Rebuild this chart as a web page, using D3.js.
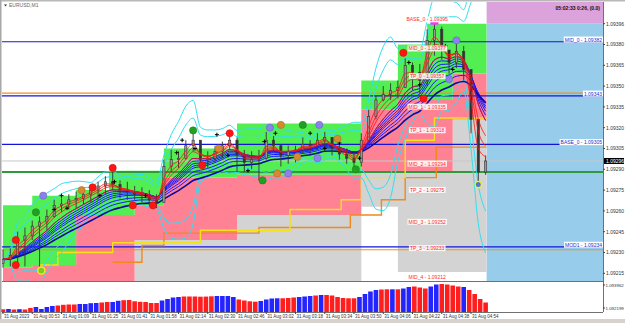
<!DOCTYPE html>
<html>
<head>
<meta charset="utf-8">
<script src="https://cdn.jsdelivr.net/npm/d3@7"></script>
<style>
body{margin:0;background:#fff;}
text{font-family:"Liberation Sans",Arial,sans-serif;}
</style>
</head>
<body>
<svg id="chart" width="625" height="323"></svg>
<script>
// ---- data (EURUSD M1, 31 Aug 2023), one candle = 4 M1 bars ----
var barsPerCandle = 4;
var highs = [1.09232,1.09233,1.09245,1.09248,1.09253,1.09256,1.09261,1.09268,1.09269,1.09272,1.09274,1.09277,1.09278,1.09281,1.09285,1.09288,1.09282,1.09281,1.09278,1.09277,1.09275,1.09272,1.09297,1.09304,1.09303,1.09311,1.09318,1.09304,1.09303,1.09307,1.09310,1.09317,1.09313,1.09304,1.09303,1.09304,1.09317,1.09314,1.09308,1.09307,1.09307,1.09313,1.09311,1.09316,1.09317,1.09311,1.09310,1.09305,1.09303,1.09316,1.09333,1.09343,1.09350,1.09352,1.09354,1.09370,1.09367,1.09366,1.09391,1.09395,1.09393,1.09375,1.09382,1.09379,1.09357,1.09321,1.09300];
var lows = [1.09219,1.09220,1.09221,1.09220,1.09239,1.09216,1.09246,1.09255,1.09259,1.09261,1.09262,1.09265,1.09266,1.09268,1.09272,1.09275,1.09269,1.09268,1.09268,1.09266,1.09264,1.09262,1.09268,1.09288,1.09291,1.09297,1.09303,1.09292,1.09291,1.09295,1.09298,1.09304,1.09288,1.09288,1.09290,1.09282,1.09297,1.09303,1.09292,1.09294,1.09295,1.09301,1.09300,1.09304,1.09305,1.09300,1.09297,1.09294,1.09291,1.09292,1.09310,1.09326,1.09339,1.09340,1.09341,1.09349,1.09347,1.09344,1.09350,1.09372,1.09369,1.09359,1.09363,1.09354,1.09316,1.09278,1.09286];
var closes = [1.09225,1.09228,1.09239,1.09242,1.09249,1.09252,1.09256,1.09264,1.09265,1.09268,1.09269,1.09272,1.09275,1.09278,1.09281,1.09279,1.09275,1.09274,1.09272,1.09271,1.09268,1.09266,1.09292,1.09297,1.09298,1.09307,1.09311,1.09297,1.09298,1.09303,1.09307,1.09311,1.09301,1.09295,1.09297,1.09298,1.09311,1.09307,1.09300,1.09303,1.09304,1.09308,1.09307,1.09311,1.09313,1.09305,1.09301,1.09298,1.09295,1.09311,1.09328,1.09340,1.09344,1.09347,1.09349,1.09365,1.09360,1.09354,1.09383,1.09391,1.09376,1.09367,1.09375,1.09362,1.09326,1.09288,1.09296];

// stepped channel (start bar of each step)
var bandStart = [0, 16, 40, 58, 72, 88, 128, 196, 216, 232, 246];
var bandTop   = [1.09264,1.09271,1.09275,1.09289,1.09289,1.09305,1.09323,1.09354,1.09380,1.09395,1.09395];
var bandMid   = [1.09219,1.09221,1.09257,1.09257,1.09264,1.09284,1.09286,1.09333,1.09340,1.09340,1.09359];
var bandLow   = [1.09209,1.09209,1.09209,1.09209,1.09239,1.09239,1.09257,1.09288,1.09288,1.09288,1.09326];
var bandFloor = [1.09209,1.09209,1.09209,1.09209,1.09209,1.09209,1.09209,1.09263,1.09216,1.09216,1.09216];

var yellowStart = [20, 30, 60, 108, 157, 185, 196, 220, 236];
var yellowLevel = [1.09221,1.09230,1.09237,1.09246,1.09261,1.09268,1.09284,1.09311,1.09327];
var orangeStart = [0, 16, 60, 76, 88, 104, 140, 190, 207, 220, 237];
var orangeLevel = [1.09249,null,1.09223,1.09235,1.09244,1.09244,1.09248,1.09257,1.09268,1.09284,1.09306];

// horizontal levels
var levelPrices = [1.09382, 1.09345, 1.09343, 1.09308, 1.09288, 1.09234, 1.09232];
var levelKinds  = ["blue", "orange", "blue", "blue", "green", "blue", "orange"];
var sideLabels  = ["MID_0 - 1.09382", "", "1.09343", "BASE_0 - 1.09305", "", "MOD1 - 1.09234", ""];
var lastPrice = 1.09296;

// level captions drawn on the chart
var capText  = ["BASE_0 - 1.09395","MID_0 - 1.09377","TP_0 - 1.09357","MID_1 - 1.09335","TP_1 - 1.09318","MID_2 - 1.09294","TP_2 - 1.09275","MID_3 - 1.09252","TP_3 - 1.09233","MID_4 - 1.09212"];
var capPrice = [1.09398,1.09377,1.09357,1.09335,1.09318,1.09294,1.09275,1.09252,1.09233,1.09212];

// signal dots: bar index, price, kind
var dotBar   = [7,7,18,21,22,43,49,60,71,82,104,109,118,124,142,146,150,152,156,161,164,172,173,183,193,219,230,244,248];
var dotPrice = [1.09221,1.09239,1.09259,1.09217,1.09271,1.09275,1.09277,1.09291,1.09264,1.09264,1.09318,1.09293,1.09305,1.09316,1.09282,1.09320,1.09287,1.09322,1.09287,1.09299,1.09322,1.09298,1.09322,1.09312,1.09290,1.09374,1.09341,1.09355,1.09383];
var dotKind  = ["r","r","g","y","p","o","r","r","r","r","g","r","o","r","g","p","o","o","p","o","g","p","p","o","g","r","r","p","p"];

var crossBar   = [28,32,35,53,61,78,95,98,105,117,123,134,143,149,168,176,184,195,222,228,242,246];
var crossPrice = [1.09261,1.09271,1.09262,1.09271,1.09281,1.09271,1.09302,1.09311,1.09305,1.09315,1.09300,1.09289,1.09310,1.09316,1.09316,1.09305,1.09309,1.09298,1.09367,1.09351,1.09379,1.09362];

// axes
var priceTicks = [1.09395,1.09380,1.09365,1.09350,1.09335,1.09320,1.09305,1.09290,1.09275,1.09260,1.09245,1.09230,1.09215];
var priceTickLabels = ["1.09396","1.09380","1.09365","1.09350","1.09335","1.09320","1.09305","1.09290","1.09275","1.09260","1.09245","1.09230","1.09215"];
var timeLabels = ["31 Aug 2023","31 Aug 00:53","31 Aug 01:09","31 Aug 01:25","31 Aug 01:41","31 Aug 01:58","31 Aug 02:14","31 Aug 02:30","31 Aug 02:46","31 Aug 03:02","31 Aug 03:18","31 Aug 03:34","31 Aug 03:50","31 Aug 04:06","31 Aug 04:22","31 Aug 04:38","31 Aug 04:54"];

// sub window histogram, one bar = 3 M1 bars
var histStep = 3;
var histValues = [1.092099,1.092122,1.092084,1.092107,1.092084,1.092199,1.092276,1.092122,1.092276,1.092352,1.092391,1.092444,1.092467,1.092467,1.092506,1.092506,1.092567,1.092582,1.092621,1.092659,1.092659,1.092751,1.092797,1.092812,1.092713,1.092674,1.092659,1.092582,1.092582,1.092774,1.092889,1.093004,1.093042,1.093081,1.093081,1.093081,1.093065,1.093073,1.093096,1.093119,1.093119,1.093119,1.093042,1.092851,1.092774,1.092713,1.092682,1.092736,1.092851,1.092927,1.092943,1.092943,1.092966,1.093004,1.093042,1.093081,1.093119,1.093157,1.093195,1.093195,1.093157,1.093042,1.092966,1.092943,1.092943,1.093042,1.093272,1.093464,1.093579,1.093617,1.093632,1.093632,1.093632,1.093694,1.093809,1.093847,1.093770,1.093694,1.093847,1.094000,1.094039,1.094000,1.093924,1.093847,1.093809,1.093579,1.093272,1.092889,1.092621];
var histDir = "rbrbrrbbbbrrrrbbbbrrbbrrrrrrrbbbbrrrrrrbbbbrrrrbbbbrrrbbbrbrrrrrrbbbbrrbrbbrrrbbrrrrbrrrr".split("");
var subTicks = [1.093962, 1.092199];

// ---- layout ----
var svg = d3.select("#chart");
var PL = 2, PR = 603, MT = 2, MB = 281, SB = 312;

var x = d3.scaleLinear().domain([0, 256]).range([3, 471]);
var y = d3.scaleLinear().domain([1.09215, 1.09395]).range([273.3, 23.7]);
var ys = d3.scaleLinear().domain([1.092199, 1.093962]).range([308, 285]);

svg.append("rect").attr("width", 625).attr("height", 323).attr("fill", "#fff");

svg.append("defs").append("clipPath").attr("id", "mainclip")
  .append("rect").attr("x", PL).attr("y", MT).attr("width", PR - PL).attr("height", MB - MT);

var main = svg.append("g").attr("clip-path", "url(#mainclip)");
var lastX = x(264) + 1;

// future area
main.append("rect").attr("x", lastX).attr("y", y(1.09395)).attr("width", PR - lastX)
  .attr("height", MB - y(1.09395)).attr("fill", "#97cdeb");
main.append("rect").attr("x", lastX).attr("y", MT).attr("width", PR - lastX)
  .attr("height", y(1.09395) - MT).attr("fill", "#dba2dc");

// stepped channel fills
function stepPoints(starts, a, b) {
  var pts = starts.map(function(s, i) { return {m: s, a: a[i], b: b[i]}; });
  pts.push({m: 264.5, a: a[a.length - 1], b: b[b.length - 1]});
  return pts;
}
var stepArea = d3.area().curve(d3.curveStepAfter)
  .x(function(d) { return x(d.m); })
  .y0(function(d) { return y(d.b); })
  .y1(function(d) { return y(d.a); });
main.append("path").attr("d", stepArea(stepPoints(bandStart, bandLow, bandFloor))).attr("fill", "#d3d3d3");
main.append("path").attr("d", stepArea(stepPoints(bandStart, bandMid, bandLow))).attr("fill", "#ff8194");
main.append("path").attr("d", stepArea(stepPoints(bandStart, bandTop, bandMid))).attr("fill", "#52ee52");

// horizontal levels
var levelColor = {blue: "#1414d8", orange: "#f0902c", green: "#2e9a3a"};
main.append("line").attr("x1", PL).attr("x2", PR).attr("y1", y(lastPrice)).attr("y2", y(lastPrice))
  .attr("stroke", "#c8c8c8").attr("stroke-width", 1);
levelPrices.forEach(function(p, i) {
  main.append("line").attr("x1", PL).attr("x2", PR).attr("y1", y(p)).attr("y2", y(p))
    .attr("stroke", levelColor[levelKinds[i]])
    .attr("stroke-width", levelKinds[i] === "green" ? 2 : 1.2);
});

// yellow / orange step lines
function stepLine(starts, levels) {
  var pts = starts.map(function(s, i) { return {m: s, v: levels[i]}; });
  pts.push({m: 264.5, v: levels[levels.length - 1]});
  return d3.line().curve(d3.curveStepAfter).defined(function(d) { return d.v !== null; })
    .x(function(d) { return x(d.m); }).y(function(d) { return y(d.v); })(pts);
}
main.append("path").attr("d", stepLine(orangeStart, orangeLevel)).attr("fill", "none")
  .attr("stroke", "#f08a1c").attr("stroke-width", 1.4);
main.append("path").attr("d", stepLine(yellowStart, yellowLevel)).attr("fill", "none")
  .attr("stroke", "#f5e11a").attr("stroke-width", 1.4);

// indicators computed from the closes
function ema(src, n) {
  var k = 2 / (n + 1), out = [], prev = src[0];
  src.forEach(function(v, i) { prev = i === 0 ? v : v * k + prev * (1 - k); out.push(prev); });
  return out;
}
function envelope(src, n, mult, side) {
  return src.map(function(v, i) {
    var w = src.slice(Math.max(0, i - n + 1), i + 1);
    var sd = w.length > 1 ? d3.deviation(w) : 0;
    return d3.mean(w) + side * mult * sd;
  });
}
var line = d3.line().curve(d3.curveMonotoneX)
  .x(function(d, i) { return x(i * barsPerCandle); })
  .y(function(d) { return y(d); });

[[2.0, 1], [2.8, 1], [2.0, -1], [2.8, -1]].forEach(function(b) {
  main.append("path").attr("d", line(envelope(closes, 6, b[0], b[1]))).attr("fill", "none")
    .attr("stroke", "#2fe0f0").attr("stroke-width", 1);
});

var bluePeriods = [6, 7, 8, 9, 10, 12, 14, 17];
bluePeriods.forEach(function(n, i) {
  main.append("path").attr("d", line(ema(closes, n))).attr("fill", "none")
    .attr("stroke", i === bluePeriods.length - 1 ? "#0b0ba0" : "#1a1aff")
    .attr("stroke-width", i === bluePeriods.length - 1 ? 1.6 : 1);
});

// candles
var cw = 2.2;
closes.forEach(function(c, i) {
  var o = i === 0 ? lows[0] + 0.00003 : closes[i - 1];
  var cx = x(i * barsPerCandle);
  main.append("line").attr("x1", cx).attr("x2", cx).attr("y1", y(highs[i])).attr("y2", y(lows[i]))
    .attr("stroke", "#333").attr("stroke-width", 0.9);
  main.append("rect").attr("x", cx - cw / 2).attr("width", cw)
    .attr("y", y(Math.max(o, c))).attr("height", Math.max(1, Math.abs(y(o) - y(c))))
    .attr("fill", c >= o ? "#9a9a9a" : "#333").attr("stroke", "#333").attr("stroke-width", 0.6);
});

[2, 3, 4, 6].forEach(function(n) {
  main.append("path").attr("d", line(ema(closes, n))).attr("fill", "none")
    .attr("stroke", "#ff1010").attr("stroke-width", 0.8);
});

// crosses
crossBar.forEach(function(b, i) {
  var cx = x(b), cy = y(crossPrice[i]);
  main.append("path").attr("d", "M" + (cx - 2) + "," + cy + "H" + (cx + 2) + "M" + cx + "," + (cy - 2) + "V" + (cy + 2))
    .attr("stroke", "#000").attr("stroke-width", 1);
});

// signal dots
var dotFill = {r: "#ff1414", g: "#22a022", p: "#8a80ee", o: "#d68a30", y: "#7ccc22"};
dotBar.forEach(function(b, i) {
  main.append("circle").attr("cx", x(b)).attr("cy", y(dotPrice[i])).attr("r", 3.6)
    .attr("fill", dotFill[dotKind[i]])
    .attr("stroke", dotKind[i] === "y" ? "#f0f020" : d3.color(dotFill[dotKind[i]]).darker(0.6))
    .attr("stroke-width", dotKind[i] === "y" ? 1.4 : 0.6);
});
// peak marker and last low marker
main.append("rect").attr("x", x(236) - 4).attr("y", y(1.09395) - 2).attr("width", 8).attr("height", 3).attr("fill", "#ff30ff");
main.append("circle").attr("cx", x(260)).attr("cy", y(1.09279)).attr("r", 3.2).attr("fill", "#4a78d8")
  .attr("stroke", "#f3f020").attr("stroke-width", 1.4);

// captions with white boxes
function boxedText(g, tx, ty, str, anchor, color, bg) {
  var t = g.append("text").attr("x", tx).attr("y", ty).attr("font-size", 5)
    .attr("text-anchor", anchor).attr("fill", color).text(str);
  var bb = t.node().getBBox();
  g.insert("rect", function() { return t.node(); })
    .attr("x", bb.x - 1).attr("y", bb.y).attr("width", bb.width + 2).attr("height", bb.height)
    .attr("fill", bg);
}
capText.forEach(function(s, i) {
  boxedText(main, x(232), y(capPrice[i]) + 1.8, s, "middle", "#ff2a2a", "rgba(255,255,255,0.85)");
});
sideLabels.forEach(function(s, i) {
  if (s) boxedText(main, PR - 1, y(levelPrices[i]) - 0.2, s, "end", "#2b2bd0", "#fff");
});

main.append("text").attr("x", 600).attr("y", 10).attr("font-size", 5).attr("font-weight", "bold")
  .attr("text-anchor", "end").attr("fill", "#111").text("05:02:33 0:26, (0.0)");

// ---- sub window ----
var bw = 4.6;
histValues.forEach(function(v, i) {
  var cx = x(i * histStep);
  svg.append("rect").attr("x", cx - bw / 2).attr("width", bw)
    .attr("y", ys(v)).attr("height", SB - ys(v))
    .attr("fill", histDir[i] === "r" ? "#ff1e1e" : "#2424ff");
});

// ---- frame and axes ----
svg.append("rect").attr("x", 0).attr("y", 0).attr("width", 625).attr("height", 1.5).attr("fill", "#b8b8b8");
svg.append("rect").attr("x", 0).attr("y", 0).attr("width", 1.5).attr("height", 319).attr("fill", "#a8a8a8");
svg.append("line").attr("x1", PL).attr("x2", PR).attr("y1", MB + 0.5).attr("y2", MB + 0.5).attr("stroke", "#707070");
svg.append("line").attr("x1", PL).attr("x2", PR).attr("y1", SB + 0.5).attr("y2", SB + 0.5).attr("stroke", "#707070");
svg.append("line").attr("x1", PR + 0.5).attr("x2", PR + 0.5).attr("y1", MT).attr("y2", SB).attr("stroke", "#707070");
svg.append("rect").attr("x", 0).attr("y", 319).attr("width", 625).attr("height", 4).attr("fill", "#d6d3ce");

var axisG = svg.append("g");
priceTicks.forEach(function(p, i) {
  var ty = y(p);
  axisG.append("line").attr("x1", PR).attr("x2", PR + 2).attr("y1", ty).attr("y2", ty).attr("stroke", "#444");
  axisG.append("text").attr("x", PR + 3).attr("y", ty + 1.8).attr("font-size", 5).attr("fill", "#333").text(priceTickLabels[i]);
});
subTicks.forEach(function(v) {
  axisG.append("line").attr("x1", PR).attr("x2", PR + 2).attr("y1", ys(v)).attr("y2", ys(v)).attr("stroke", "#444");
  axisG.append("text").attr("x", PR + 2.5).attr("y", ys(v) + 1.6).attr("font-size", 4.4).attr("fill", "#333").text(v.toFixed(6));
});
axisG.append("rect").attr("x", PR + 1).attr("y", y(lastPrice) - 3).attr("width", 20).attr("height", 6).attr("fill", "#000");
axisG.append("text").attr("x", PR + 3).attr("y", y(lastPrice) + 1.8).attr("font-size", 5).attr("fill", "#fff").text(lastPrice.toFixed(5));

timeLabels.forEach(function(s, i) {
  var tx = x(i * 16);
  axisG.append("line").attr("x1", tx).attr("x2", tx).attr("y1", SB).attr("y2", SB + 2).attr("stroke", "#444");
  axisG.append("text").attr("x", tx + 1).attr("y", 317.5).attr("font-size", 4.5).attr("fill", "#333").text(s);
});

axisG.append("path").attr("d", "M4,4.5L7,4.5L5.5,6.5Z").attr("fill", "#333");
axisG.append("text").attr("x", 9).attr("y", 7).attr("font-size", 5).attr("fill", "#666").text("EURUSD,M1");
</script>
</body>
</html>
